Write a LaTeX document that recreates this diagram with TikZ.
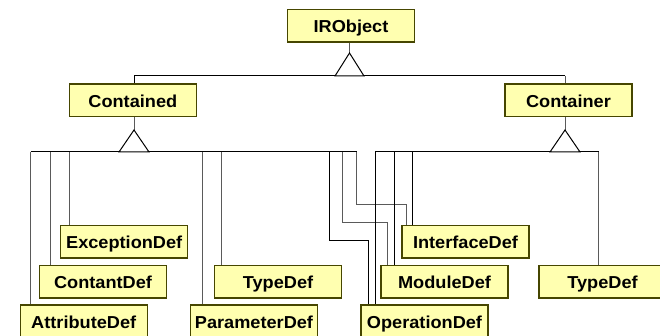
\documentclass[tikz,border=0pt]{standalone}
\usepackage{fontspec}
\setmainfont{Liberation Sans}[FakeStretch=1.05]
\definecolor{boxline}{RGB}{70,70,0}
\definecolor{boxfill}{RGB}{255,255,176}
\definecolor{wiregray}{RGB}{90,90,90}
\begin{document}
\begin{tikzpicture}[x=1pt,y=-1pt,
  cls/.style={draw=boxline, line width=1.1pt, fill=boxfill,
    minimum width=127pt, minimum height=32.5pt, inner sep=0pt,
    text height=14.1pt, text depth=0pt, font=\fontsize{17.3}{20}\bfseries\selectfont},
  wire/.style={draw=wiregray, line width=1pt},
  bus/.style={draw=black, line width=1pt},
  tri/.style={draw=black, fill=white, line width=1pt, line join=miter}]
\useasboundingbox (0,0) rectangle (660,336);
\clip (0,0) rectangle (660,336);

\node[cls] (iro) at (351,25.75) {IRObject};
\node[cls] (cted) at (132.8,100.25) {Contained};
\node[cls] (cter) at (568.5,100.25) {Container};
\node[cls] (exc) at (124.2,241.75) {ExceptionDef};
\node[cls] (con) at (103,281.75) {ContantDef};
\node[cls] (att) at (83.7,321.25) {AttributeDef};
\node[cls] (typa) at (278,281.75) {TypeDef};
\node[cls] (par) at (254,321.25) {ParameterDef};
\node[cls] (intf) at (465.5,241.75) {InterfaceDef};
\node[cls] (mod) at (444.5,281.75) {ModuleDef};
\node[cls] (ope) at (424.5,321.25) {OperationDef};
\node[cls] (typb) at (602.5,281.75) {TypeDef};

\coordinate (t0) at (349.5,53);
\coordinate (t1) at (134,130);
\coordinate (t2) at (565,130);

% top level
\draw[wire] (349.5,0 |- iro.south) -- (t0);
\draw[bus] (134,76) -- (565,76);
\draw[bus] (134,76) -- (134,0 |- cted.north);
\draw[wire] (565,76) -- (565,0 |- cter.north);
\draw[tri] (t0) -- ++(-14.5,23) -- ++(29,0) -- cycle;

% Contained
\draw[wire] (134,0 |- cted.south) -- (t1);
\draw[bus] (30.7,152) -- (356.7,152);
\draw[tri] (t1) -- ++(-15,22) -- ++(30,0) -- cycle;

% Container
\draw[wire] (565,0 |- cter.south) -- (t2);
\draw[bus] (375,152) -- (598.7,152);
\draw[tri] (t2) -- ++(-15,22) -- ++(30,0) -- cycle;

% Contained children
\draw[wire] (30.7,152) -- (30.7,0 |- att.north);
\draw[wire] (50,152) -- (50,0 |- con.north);
\draw[wire] (69,152) -- (69,0 |- exc.north);
\draw[wire] (202.7,152) -- (202.7,0 |- par.north);
\draw[wire] (221.7,152) -- (221.7,0 |- typa.north);
\draw[bus] (329.3,152) |- (368.3,240.7) -- (368.3,0 |- ope.north);
\draw[wire] (342.7,152) |- (387.3,222.7) -- (387.3,0 |- mod.north);
\draw[wire] (356.7,152) |- (406,205) -- (406,0 |- intf.north);

% Container children
\draw[bus] (375,152) -- (375,0 |- ope.north);
\draw[bus] (394,152) -- (394,0 |- mod.north);
\draw[bus] (412.7,152) -- (412.7,0 |- intf.north);
\draw[wire] (598.7,152) -- (598.7,0 |- typb.north);
\end{tikzpicture}
\end{document}
